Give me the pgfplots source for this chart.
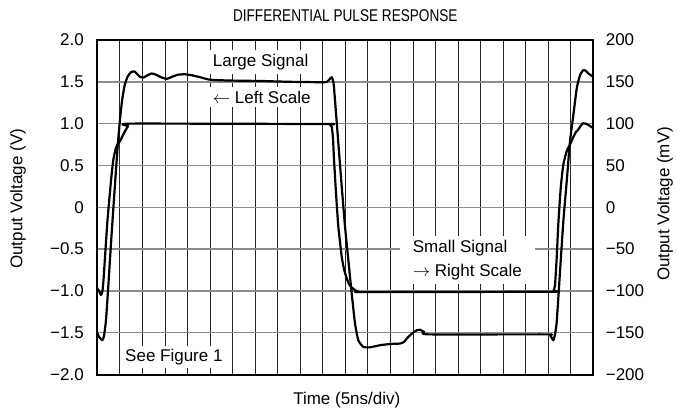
\documentclass[border=0pt]{standalone}
\usepackage{graphicx}
\usepackage{pgfplots}
\pgfplotsset{compat=1.18}
\usepackage{fontspec}
\setmainfont{Liberation Sans}

\begin{document}
\begin{tikzpicture}[font=\fontsize{17}{20.4}\selectfont]
\begin{axis}[
  scale only axis, width=496pt, height=334.5pt,
  at={(0,0)}, anchor=south west,
  xmin=0, xmax=110, ymin=-2, ymax=2,
  xtick={5,10,...,105}, xticklabels={},
  ytick={-2,-1.5,-1,-0.5,0,0.5,1,1.5,2},
  yticklabels={−2.0,−1.5,−1.0,−0.5,0,0.5,1.0,1.5,2.0},
  major tick length=0pt,
  axis line style={line width=2pt},
  xmajorgrids, ymajorgrids,
  x grid style={black!85, line width=0.8pt},
  y grid style={black!45, line width=1.4pt},
  yticklabel style={xshift=-10pt},
  title={\scalebox{0.8}[1]{DIFFERENTIAL PULSE RESPONSE}},
  title style={at={(axis description cs:0.5,1.054)}, anchor=center, font=\fontsize{17}{20.4}\selectfont},
  xlabel={Time (5ns/div)},
  xlabel style={at={(axis description cs:0.503,-0.0762)}, anchor=center},
  ylabel={Output Voltage (V)},
  ylabel style={at={(axis description cs:-0.16,0.525)}, anchor=center},
]
\addplot[black, line width=2.2pt, smooth, tension=0.3, line join=round] coordinates {
(0,-1.50) (0.377,-1.55) (1.109,-1.59) (1.486,-1.54) (1.929,-1.35) (2.373,-1.00)
(2.817,-0.62) (3.260,-0.25) (3.704,0.10) (4.147,0.45) (4.591,0.78) (5.034,1.05)
(5.478,1.27) (6.032,1.45) (6.698,1.56) (7.474,1.615) (8.206,1.625) (8.805,1.595)
(9.470,1.56) (10.202,1.55) (11.022,1.575) (12.065,1.60) (13.018,1.585) (14.127,1.555)
(15.392,1.535) (16.567,1.56) (17.898,1.585) (19.450,1.59) (21.003,1.578) (22.777,1.555)
(24.995,1.525) (29.431,1.515) (36.084,1.51) (42.738,1.50) (50.122,1.495) (50.943,1.50)
(51.498,1.53) (51.986,1.555) (52.385,1.49) (52.717,1.28) (53.449,0.77) (54.203,0.25)
(54.935,-0.23) (55.667,-0.63) (56.421,-1.03) (57.153,-1.39) (57.885,-1.59) (58.993,-1.67)
(60.479,-1.675) (62.697,-1.65) (64.915,-1.635) (67.133,-1.63) (68.020,-1.61) (68.974,-1.55)
(70.016,-1.50) (70.903,-1.47) (71.569,-1.465) (72.456,-1.49) (73.409,-1.52) (99.668,-1.52)
(100.400,-1.53) (101.132,-1.59) (101.509,-1.52) (101.886,-1.37) (102.618,-0.77) (103.350,-0.17)
(104.104,0.31) (104.836,0.79) (105.568,1.10) (106.322,1.42) (107.053,1.58) (107.785,1.64)
(108.384,1.63) (108.895,1.60) (110,1.56)
};
\node[fill=white, inner sep=4pt, anchor=base west] at (axis cs:24.71,1.682) {Large Signal};
\node[fill=white, inner sep=4pt, anchor=base west] at (axis cs:24.71,1.244) {$\leftarrow$ Left Scale};
\node[fill=white, inner xsep=12.7pt, inner ysep=4pt, anchor=north west, align=left,
      font=\fontsize{17}{24}\selectfont] at (axis cs:67.13,-0.343) {Small Signal\\$\rightarrow$ Right Scale};
\node[fill=white, inner sep=3pt, anchor=base west] at (axis cs:5.48,-1.839) {See Figure 1};
\end{axis}
\begin{axis}[
  scale only axis, width=496pt, height=334.5pt,
  at={(0,0)}, anchor=south west,
  xmin=0, xmax=110, ymin=-200, ymax=200,
  axis y line*=right, axis x line=none,
  ytick={-200,-150,-100,-50,0,50,100,150,200},
  yticklabels={−200,−150,−100,−50,0,50,100,150,200},
  major tick length=0pt,
  axis line style={line width=2pt},
  yticklabel style={xshift=9pt},
  ylabel={Output Voltage (mV)},
  ylabel style={at={(axis description cs:1.1446,0.51)}, anchor=center},
]
\addplot[black, line width=2.2pt, smooth, tension=0.3, line join=round] coordinates {
(0,-97) (0.377,-100) (0.821,-105) (1.153,-100) (1.375,-87) (1.863,-47) (2.262,-15)
(2.706,12) (3.149,38) (3.593,58) (4.081,70) (4.591,76) (5.034,79) (5.589,85)
(6.143,91) (6.809,97) (7.363,100) (50.943,99.5) (51.498,99) (51.986,96) (52.274,82)
(52.496,57) (52.940,17) (53.449,-23) (54.203,-59) (54.713,-74) (55.312,-85) (55.822,-92)
(56.421,-96) (57.153,-99) (57.885,-101) (58.993,-101.5) (100.777,-101) (101.176,-100)
(101.509,-93) (101.886,-60) (102.241,-20) (102.773,23) (103.350,51) (104.104,67)
(104.836,75) (105.568,84) (106.167,90) (106.677,93) (107.276,98) (107.785,100.5)
(108.273,100) (108.894,98.5) (110,94.5)
};
\end{axis}
\path (-97.3pt,-40.5pt) rectangle (579.7pt,374.5pt);
\end{tikzpicture}
\end{document}
